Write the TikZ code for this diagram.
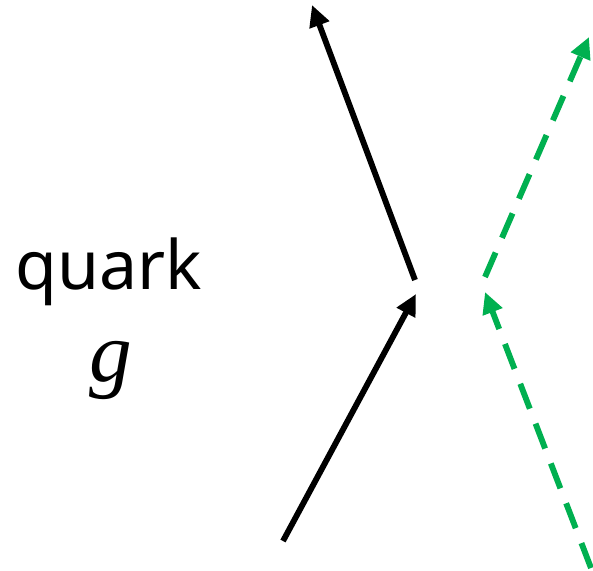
\documentclass[tikz,border=0pt]{standalone}
\usepackage{fontspec}
\setsansfont{Noto Sans}
\newfontfamily\glabelfont{Liberation Serif Italic}
\usetikzlibrary{arrows.meta}
\definecolor{qgreen}{HTML}{00B050}
\tikzset{
  quarkline/.style={line width=4.4pt, -{Triangle[length=16pt, width=15pt]}},
  gluonline/.style={quarkline, qgreen, dash pattern=on 20pt off 12pt},
}
\begin{document}
\begin{tikzpicture}[x=0.75pt, y=-0.75pt]
    % Frame
    \useasboundingbox (0,0) rectangle (593,571);

    % Labels (left)
    \node[font=\sffamily\fontsize{51}{57}\selectfont] (quark) at (109,272) {quark};
    \node[font=\glabelfont\fontsize{64}{72}\selectfont] (glabel) at (111,370) {g};

    % Black quark lines
    \coordinate (qin)  at (283,541);
    \coordinate (qmid) at (416,294);
    \coordinate (qtop) at (415,280);
    \coordinate (qout) at (312,5);
    \draw[quarkline] (qin) -- (qmid);
    \draw[quarkline] (qtop) -- (qout);

    % Green dashed lines
    \coordinate (gin)  at (591,568);
    \coordinate (gmid) at (485,292);
    \coordinate (gtop) at (485,277);
    \coordinate (gout) at (589,37);
    \draw[gluonline] (gin) -- (gmid);
    \draw[gluonline] (gtop) -- (gout);
  \end{tikzpicture}
\end{document}
